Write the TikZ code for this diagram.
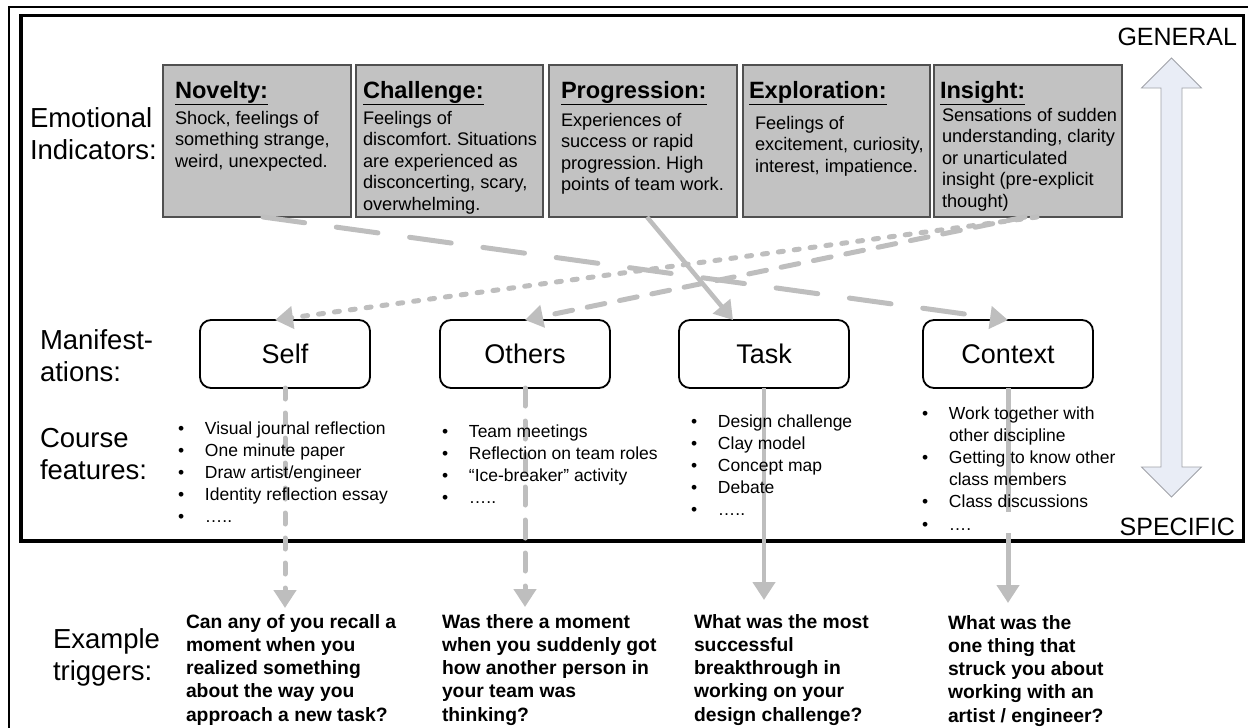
\documentclass[tikz,border=0pt]{standalone}
\usepackage{fontspec}
\setmainfont{Liberation Sans}
\usetikzlibrary{arrows.meta}
\frenchspacing

\newcommand{\setsz}[2]{\fontsize{#1}{#2}\selectfont}
\newcommand{\ml}[1]{\begin{tabular}[t]{@{}l@{}}#1\end{tabular}}
\newcommand{\itm}[1]{\makebox[27pt][l]{\textbullet}#1}
\newcommand{\cont}[1]{\makebox[27pt][l]{}#1}

\definecolor{boxgray}{RGB}{194,194,194}
\definecolor{boxedge}{RGB}{80,80,80}
\definecolor{conncol}{RGB}{190,190,190}
\definecolor{arrfill}{RGB}{233,237,246}
\definecolor{arredge}{RGB}{160,162,168}

\begin{document}
\begin{tikzpicture}[x=1pt,y=-1pt,
  every node/.style={inner sep=0pt, outer sep=0pt},
  topbox/.style={draw=boxedge, line width=1.3pt, fill=boxgray, anchor=north west, minimum height=152pt},
  ttl/.style={anchor=base west, font=\setsz{23.6}{28}\bfseries},
  body/.style={anchor=base west, font=\setsz{18.2}{21.5}},
  sidelbl/.style={anchor=base west, font=\setsz{27.5}{32}},
  manbox/.style={draw, line width=1.8pt, rounded corners=11pt, fill=white,
    minimum width=170pt, minimum height=68pt, font=\setsz{27}{32}},
  feat/.style={anchor=base west, font=\setsz{17.5}{22.2}},
  trig/.style={anchor=base west, font=\setsz{19.3}{23.3}\bfseries},
  endtip/.style={-{Triangle[length=18pt,width=22pt]}},
  conn/.style={draw=conncol, line width=5pt, endtip},
  longdash/.style={conn, line cap=round, dash pattern=on 42pt off 32pt},
  middash/.style={conn, line cap=round, dash pattern=on 18pt off 15pt},
  dotline/.style={conn, line cap=round, dash pattern=on 5pt off 11pt},
  shortdash/.style={conn, line cap=round, dash pattern=on 11pt off 14pt},
  vlongdash/.style={conn, dash pattern=on 124pt off 21pt},
  solidconn/.style={conn, line width=4.5pt}
]
\useasboundingbox (0,0) rectangle (1248,728);

% frames
\draw[line width=2.5pt] (9,728) -- (9,7) -- (1248,7);
\draw[line width=3.5pt] (21,15.5) rectangle (1243.5,541);

% general / specific axis
\draw[draw=arredge, fill=arrfill, line width=0.8pt]
  (1171.5,58) -- (1201.5,88) -- (1182,88) -- (1182,467) -- (1201.5,467)
  -- (1171.5,497) -- (1141.5,467) -- (1161,467) -- (1161,88) -- (1141.5,88) -- cycle;
\node[anchor=base east, font=\setsz{25}{30}] (gen) at (1237,45) {GENERAL};
\node[anchor=base east, font=\setsz{25}{30}] (spec) at (1235,535) {SPECIFIC};

% emotional indicators
\node[topbox, minimum width=188pt] (nov) at (163,65) {};
\node[topbox, minimum width=187pt] (cha) at (356,65) {};
\node[topbox, minimum width=188pt] (pro) at (549,65) {};
\node[topbox, minimum width=187pt] (exp) at (743,65) {};
\node[topbox, minimum width=188pt] (ins) at (934,65) {};

\node[ttl] (novt) at (175,98) {\underline{Novelty:}};
\node[ttl] (chat) at (363,98) {\underline{Challenge:}};
\node[ttl] (prot) at (561,98) {\underline{Progression:}};
\node[ttl] (expt) at (749,98) {\underline{Exploration:}};
\node[ttl] (inst) at (940,98) {\underline{Insight:}};

\node[body] (novb) at (175,124) {\ml{Shock, feelings of\\something strange,\\weird, unexpected.}};
\node[body] (chab) at (363,124) {\ml{Feelings of\\discomfort. Situations\\are experienced as\\disconcerting, scary,\\overwhelming.}};
\node[body] (prob) at (561,126) {\ml{Experiences of\\success or rapid\\progression. High\\points of team work.}};
\node[body] (expb) at (755,129) {\ml{Feelings of\\excitement, curiosity,\\interest, impatience.}};
\node[body] (insb) at (942,121) {\ml{Sensations of sudden\\understanding, clarity\\or unarticulated\\insight (pre-explicit\\thought)}};

% manifestations
\node[manbox] (self) at (285,354) {Self};
\node[manbox] (oth) at (525,354) {Others};
\node[manbox] (task) at (764,354) {Task};
\node[manbox] (ctx) at (1008,354) {Context};

% side labels
\node[sidelbl] (lab1) at (30,127) {\ml{Emotional\\Indicators:}};
\node[sidelbl] (lab2) at (40,349) {\ml{Manifest-\\ations:}};
\node[sidelbl] (lab3) at (40,447) {\ml{Course\\features:}};
\node[sidelbl] (lab4) at (53,648) {\ml{Example\\triggers:}};

% connectors from indicators to manifestations
\draw[longdash] ([xshift=6pt]nov.south) -- (ctx.north);
\draw[solidconn] ([xshift=4pt]pro.south) -- ([xshift=-31pt]task.north);
\draw[dotline] ([xshift=9pt]ins.south) -- ([xshift=-10pt]self.north);
\draw[middash] ([xshift=-3pt]ins.south) -- (oth.north);

% connectors from manifestations to triggers
\coordinate (selfend) at (285,608);
\coordinate (othend) at (525,607);
\coordinate (taskend) at (764,600);
\coordinate (ctxend) at (1008,603);
\draw[shortdash] (self.south) -- (selfend);
\draw[middash] (oth.south) -- (othend);
\draw[solidconn] (task.south) -- (taskend);
\draw[vlongdash] (ctx.south) -- (ctxend);

% course features
\node[feat] (f1) at (178,434) {\ml{\itm{Visual journal reflection}\\\itm{One minute paper}\\\itm{Draw artist/engineer}\\\itm{Identity reflection essay}\\\itm{…..}}};
\node[feat] (f2) at (442,437) {\ml{\itm{Team meetings}\\\itm{Reflection on team roles}\\\itm{“Ice-breaker” activity}\\\itm{…..}}};
\node[feat] (f3) at (691,427) {\ml{\itm{Design challenge}\\\itm{Clay model}\\\itm{Concept map}\\\itm{Debate}\\\itm{…..}}};
\node[feat] (f4) at (922,419) {\ml{\itm{Work together with}\\\cont{other discipline}\\\itm{Getting to know other}\\\cont{class members}\\\itm{Class discussions}\\\itm{….}}};

% example triggers
\node[trig] (t1) at (186,628) {\ml{Can any of you recall a\\moment when you\\realized something\\about the way you\\approach a new task?}};
\node[trig] (t2) at (442,628) {\ml{Was there a moment\\when you suddenly got\\how another person in\\your team was\\thinking?}};
\node[trig] (t3) at (694,628) {\ml{What was the most\\successful\\breakthrough in\\working on your\\design challenge?}};
\node[trig] (t4) at (948,629) {\ml{What was the\\one thing that\\struck you about\\working with an\\artist / engineer?}};
\end{tikzpicture}
\end{document}
